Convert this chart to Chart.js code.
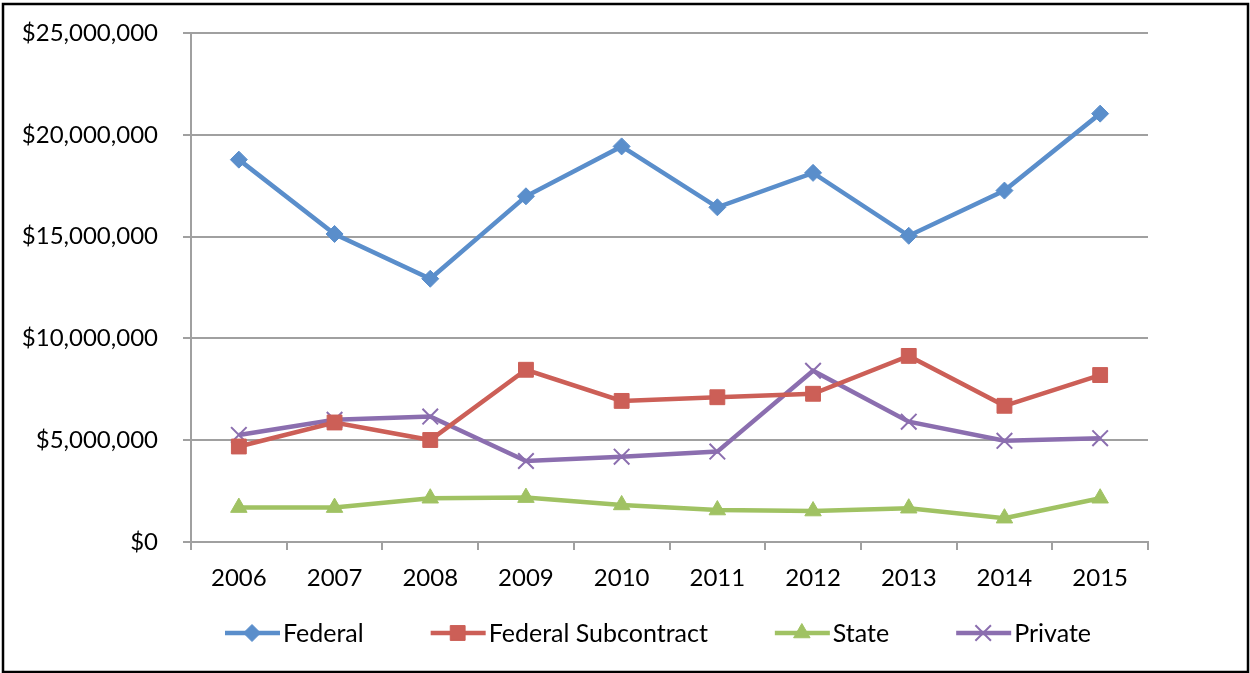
<!DOCTYPE html>
<html>
<head>
<meta charset="utf-8">
<script src="https://cdn.jsdelivr.net/npm/chart.js@4.4.1/dist/chart.umd.min.js"></script>
<style>
  html, body { margin: 0; padding: 0; background: #fff; }
  #wrap { position: relative; width: 1250px; height: 673px; }
</style>
</head>
<body>
<div id="wrap"><canvas id="lineChart"></canvas></div>
<script>
// Data
const years = ["2006", "2007", "2008", "2009", "2010", "2011", "2012", "2013", "2014", "2015"];
const federal = [18780000, 15130000, 12930000, 16980000, 19430000, 16440000, 18130000, 15040000, 17260000, 21040000];
const federalSub = [4690000, 5870000, 5010000, 8460000, 6930000, 7110000, 7280000, 9140000, 6690000, 8200000];
const state = [1690000, 1690000, 2150000, 2180000, 1820000, 1570000, 1520000, 1660000, 1170000, 2150000];
const privateFunds = [5260000, 6000000, 6160000, 3980000, 4190000, 4440000, 8410000, 5910000, 4970000, 5100000];

const FONT = "Lato, 'Liberation Sans', sans-serif";

function series(label, data, color, style, radius, bw) {
    return {
        label: label,
        data: data,
        borderColor: color,
        backgroundColor: color,
        borderWidth: 4.5,
        tension: 0,
        pointStyle: style,
        pointRadius: radius,
        pointHoverRadius: radius,
        pointBackgroundColor: color,
        pointBorderColor: color,
        pointBorderWidth: bw,
    };
}

// frame around the whole picture
const framePlugin = {
    id: "frame",
    afterDraw(chart) {
        const ctx = chart.ctx;
        ctx.save();
        ctx.strokeStyle = "#000";
        ctx.lineWidth = 2.5;
        ctx.strokeRect(3, 4, 1245, 668);
        ctx.restore();
    },
};

// Excel-like legend: short line with the marker in the middle
const legendPlugin = {
    id: "excelLegend",
    afterDraw(chart) {
        const ctx = chart.ctx;
        const y = 633;
        let x = 225;
        ctx.save();
        ctx.font = "25px " + FONT;
        ctx.textBaseline = "middle";
        chart.data.datasets.forEach((ds) => {
            ctx.strokeStyle = ds.borderColor;
            ctx.lineWidth = ds.borderWidth;
            ctx.beginPath();
            ctx.moveTo(x, y);
            ctx.lineTo(x + 55, y);
            ctx.stroke();
            ctx.fillStyle = ds.pointBackgroundColor;
            ctx.strokeStyle = ds.pointBorderColor;
            ctx.lineWidth = ds.pointBorderWidth;
            Chart.helpers.drawPoint(ctx, {
                pointStyle: ds.pointStyle,
                radius: ds.pointRadius,
                borderWidth: ds.pointBorderWidth,
                rotation: 0,
            }, x + 27, y);
            ctx.fillStyle = "#000";
            ctx.fillText(ds.label, x + 58, y + 1);
            x += 58 + ctx.measureText(ds.label).width + 67;
        });
        ctx.restore();
    },
};

const ctx = document.getElementById("lineChart").getContext("2d");
new Chart(ctx, {
    type: "line",
    data: {
        labels: years,
        datasets: [
            series("Federal", federal, "#5A8ECB", "rectRot", 8.5, 1),
            series("Federal Subcontract", federalSub, "#CC5F57", "rect", 10.5, 1),
            series("State", state, "#A0C263", "triangle", 9.5, 1),
            series("Private", privateFunds, "#8B6EAF", "crossRot", 11, 2),
        ],
    },
    options: {
        responsive: true,
        maintainAspectRatio: false,
        animation: false,
        layout: { autoPadding: false, padding: { left: 0, top: 33, right: 102, bottom: 0 } },
        plugins: {
            legend: { display: false },
            tooltip: { enabled: false },
        },
        scales: {
            x: {
                offset: true,
                grid: {
                    offset: true,
                    drawOnChartArea: false,
                    drawTicks: true,
                    tickLength: 8,
                    color: "#a0a0a0",
                    lineWidth: 2,
                },
                border: { color: "#a0a0a0", width: 2 },
                ticks: {
                    color: "#000",
                    font: { family: FONT, size: 24 },
                    padding: 14,
                    maxRotation: 0,
                },
                afterFit(scale) {
                    scale.height = 131;
                    scale.paddingLeft = 0;
                    scale.paddingRight = 0;
                },
            },
            y: {
                min: 0,
                max: 25000000,
                grid: {
                    color: "#a0a0a0",
                    lineWidth: 2,
                    drawTicks: true,
                    tickLength: 8,
                },
                border: { color: "#a0a0a0", width: 2 },
                ticks: {
                    stepSize: 5000000,
                    color: "#000",
                    font: { family: FONT, size: 24 },
                    padding: 25,
                    callback: (v) => "$" + v.toLocaleString("en-US"),
                },
                afterFit(scale) {
                    scale.width = 191;
                    scale.paddingTop = 0;
                    scale.paddingBottom = 0;
                },
            },
        },
    },
    plugins: [framePlugin, legendPlugin],
});
</script>
</body>
</html>
